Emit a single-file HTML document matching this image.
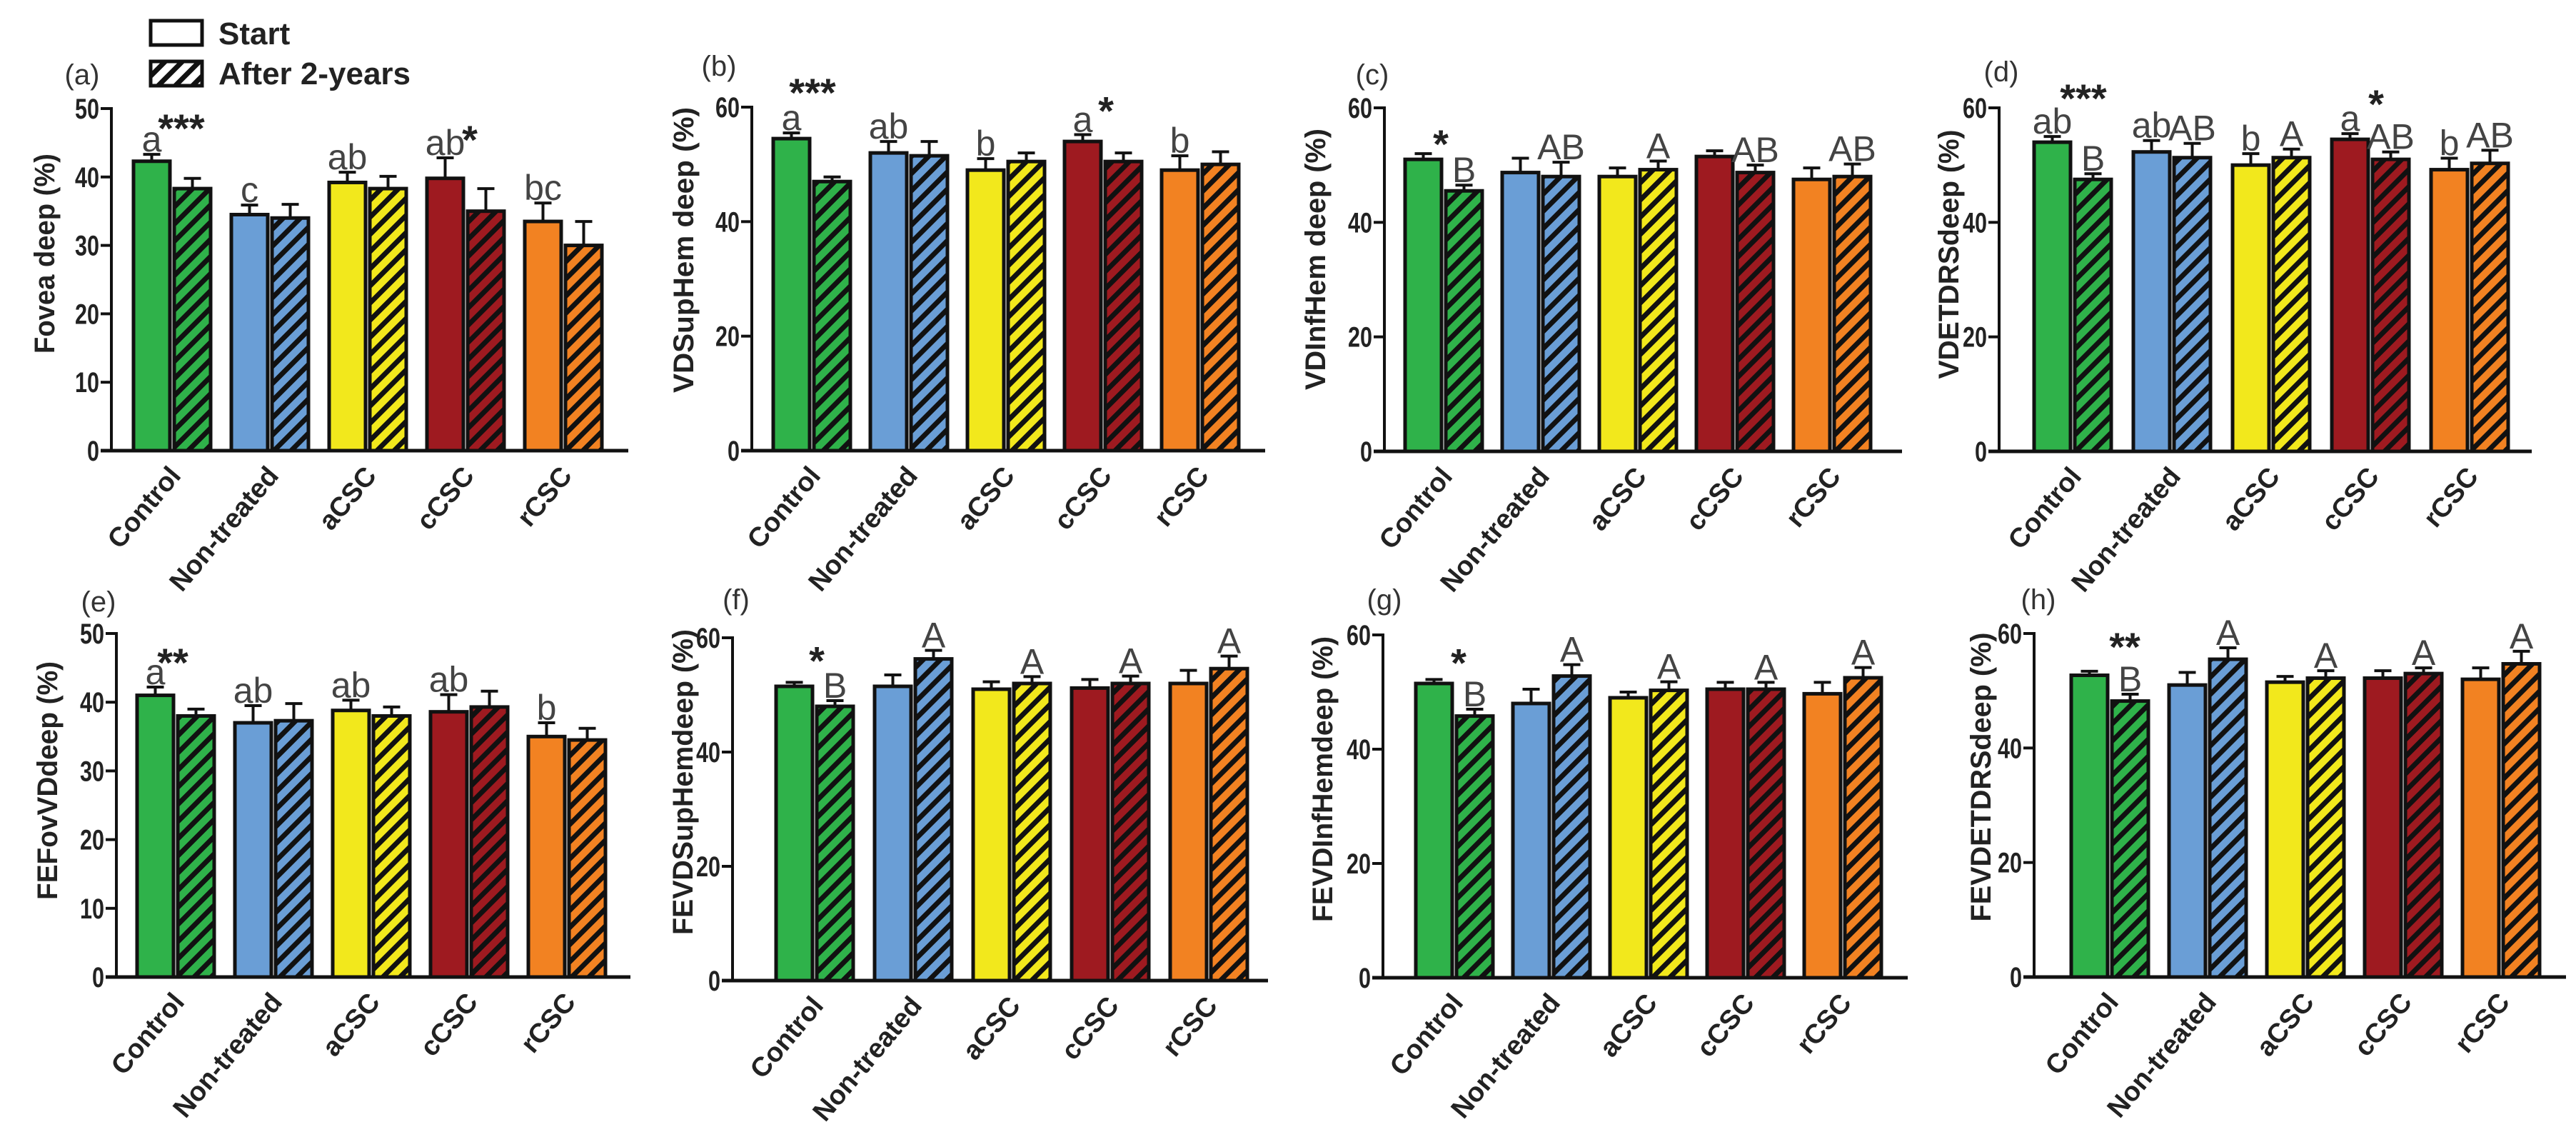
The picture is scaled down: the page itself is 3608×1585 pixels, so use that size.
<!DOCTYPE html>
<html><head><meta charset="utf-8"><style>
html,body{margin:0;padding:0;background:#fff}
svg{display:block}
text{font-family:"Liberation Sans",Arial,sans-serif}
</style></head><body>
<svg id="fig" width="3608" height="1585" viewBox="0 0 3608 1585" xmlns="http://www.w3.org/2000/svg">
<defs>
<pattern id="hatch" patternUnits="userSpaceOnUse" width="17" height="17" patternTransform="rotate(45)">
<rect x="0" y="0" width="7" height="17" fill="#111"/>
</pattern>
</defs>
<g>
<rect x="211" y="29" width="72" height="34" fill="#fff" stroke="#111" stroke-width="5"/>
<text x="306" y="62" font-size="44" font-weight="bold" fill="#222">Start</text>
<rect x="211" y="86" width="72" height="34" fill="#fff" stroke="#111" stroke-width="5"/>
<rect x="211" y="86" width="72" height="34" fill="url(#hatch)"/>
<text x="306" y="118" font-size="44" font-weight="bold" fill="#222">After 2-years</text>
</g>
</svg>
<script>
const categories = ["Control","Non-treated","aCSC","cCSC","rCSC"];
const colors = ["#2fb24a","#6a9ed6","#f2e81c","#9e1a20","#f28222"];

const aStart = [42.3,34.5,39.2,39.8,33.5];
const aAfter = [38.3,34.0,38.3,35.0,30.0];
const aStartErr = [1.0,1.4,1.5,3.0,2.7];
const aAfterErr = [1.5,2.0,1.8,3.3,3.5];

const bStart = [54.5,52.0,49.0,54.0,49.0];
const bAfter = [47.0,51.5,50.5,50.5,50.0];
const bStartErr = [1.0,2.0,2.0,1.2,2.5];
const bAfterErr = [0.8,2.5,1.5,1.5,2.2];

const cStart = [51.0,48.7,48.0,51.5,47.5];
const cAfter = [45.5,48.0,49.2,48.7,48.0];
const cStartErr = [1.0,2.5,1.5,1.0,2.0];
const cAfterErr = [1.0,2.5,1.5,1.3,2.2];

const dStart = [54.0,52.3,50.0,54.5,49.2];
const dAfter = [47.5,51.3,51.3,51.0,50.3];
const dStartErr = [1.0,2.0,2.0,1.0,2.0];
const dAfterErr = [1.0,2.5,1.5,1.3,2.3];

const eStart = [41.0,37.0,38.8,38.6,35.0];
const eAfter = [38.0,37.3,38.0,39.3,34.5];
const eStartErr = [1.2,2.5,1.5,2.5,2.0];
const eAfterErr = [1.0,2.5,1.3,2.3,1.7];

const fStart = [51.5,51.5,51.0,51.2,52.0];
const fAfter = [48.0,56.3,52.0,52.0,54.6];
const fStartErr = [0.7,2.0,1.3,1.5,2.3];
const fAfterErr = [1.0,1.5,1.2,1.3,2.2];

const gStart = [51.5,48.0,49.0,50.5,49.7];
const gAfter = [45.8,52.8,50.3,50.5,52.5];
const gStartErr = [0.7,2.5,1.0,1.2,2.0];
const gAfterErr = [1.2,2.0,1.5,1.2,1.8];

const hStart = [52.7,51.0,51.5,52.2,52.0];
const hAfter = [48.2,55.5,52.2,53.0,54.7];
const hStartErr = [0.7,2.2,1.0,1.3,2.0];
const hAfterErr = [1.2,2.0,1.3,1.0,2.2];

const ticks50 = [0,10,20,30,40,50];
const ticks60 = [0,20,40,60];

const aLetters = [[0,0,"a"],[1,0,"c"],[2,0,"ab"],[3,0,"ab"],[4,0,"bc"]];
const bLetters = [[0,0,"a"],[1,0,"ab"],[2,0,"b"],[3,0,"a"],[4,0,"b"]];
const cLetters = [[0,1,"B"],[1,1,"AB"],[2,1,"A"],[3,1,"AB"],[4,1,"AB"]];
const dLetters = [[0,0,"ab"],[0,1,"B"],[1,0,"ab"],[1,1,"AB"],[2,0,"b"],[2,1,"A"],[3,0,"a"],[3,1,"AB"],[4,0,"b"],[4,1,"AB"]];
const eLetters = [[0,0,"a"],[1,0,"ab"],[2,0,"ab"],[3,0,"ab"],[4,0,"b"]];
const fLetters = [[0,1,"B"],[1,1,"A"],[2,1,"A"],[3,1,"A"],[4,1,"A"]];
const gLetters = [[0,1,"B"],[1,1,"A"],[2,1,"A"],[3,1,"A"],[4,1,"A"]];
const hLetters = [[0,1,"B"],[1,1,"A"],[2,1,"A"],[3,1,"A"],[4,1,"A"]];
const aStars = [[0,"***",67,37],[3,"*",60,26]];
const bStars = [[0,"***",55,57],[3,"*",58,34]];
const cStars = [[0,"*",50,14]];
const dStars = [[0,"***",69,54],[3,"*",62,42]];
const eStars = [[0,"**",50,35]];
const fStars = [[0,"*",57,31]];
const gStars = [[0,"*",60,24]];
const hStars = [[0,"**",75,35]];

const panels = [
 {id:"a",start:aStart,after:aAfter,se:aStartErr,ae:aAfterErr,ticks:ticks50,max:50,letters:aLetters,stars:aStars,title:"Fovea deep (%)",
  x0:156,x1:880,yT:152,y0:631,first:187,sp:137,lx:115,ly:118,tx:62,ty:355,tl:280},
 {id:"b",start:bStart,after:bAfter,se:bStartErr,ae:bAfterErr,ticks:ticks60,max:60,letters:bLetters,stars:bStars,title:"VDSupHem deep  (%)",
  x0:1053,x1:1772,yT:150,y0:631,first:1083,sp:136,lx:1007,ly:106,tx:957,ty:350,tl:400},
 {id:"c",start:cStart,after:cAfter,se:cStartErr,ae:cAfterErr,ticks:ticks60,max:60,letters:cLetters,stars:cStars,title:"VDInfHem  deep  (%)",
  x0:1939,x1:2664,yT:151,y0:632,first:1968,sp:136,lx:1922,ly:118,tx:1842,ty:363,tl:366},
 {id:"d",start:dStart,after:dAfter,se:dStartErr,ae:dAfterErr,ticks:ticks60,max:60,letters:dLetters,stars:dStars,title:"VDETDRSdeep (%)",
  x0:2800,x1:3546,yT:151,y0:632,first:2849,sp:139,lx:2803,ly:114,tx:2729,ty:356,tl:349},
 {id:"e",start:eStart,after:eAfter,se:eStartErr,ae:eAfterErr,ticks:ticks50,max:50,letters:eLetters,stars:eStars,title:"FEFovVDdeep (%)",
  x0:163,x1:883,yT:887,y0:1368,first:192,sp:137,lx:138,ly:856,tx:66,ty:1093,tl:334},
 {id:"f",start:fStart,after:fAfter,se:fStartErr,ae:fAfterErr,ticks:ticks60,max:60,letters:fLetters,stars:fStars,title:"FEVDSupHemdeep (%)",
  x0:1026,x1:1776,yT:893,y0:1373,first:1087,sp:138,lx:1031,ly:853,tx:956,ty:1095,tl:428},
 {id:"g",start:gStart,after:gAfter,se:gStartErr,ae:gAfterErr,ticks:ticks60,max:60,letters:gLetters,stars:gStars,title:"FEVDInfHemdeep (%)",
  x0:1937,x1:2672,yT:889,y0:1369,first:1983,sp:136,lx:1939,ly:853,tx:1852,ty:1091,tl:400},
 {id:"h",start:hStart,after:hAfter,se:hStartErr,ae:hAfterErr,ticks:ticks60,max:60,letters:hLetters,stars:hStars,title:"FEVDETDRSdeep (%)",
  x0:2849,x1:3594,yT:887,y0:1368,first:2901,sp:137,lx:2855,ly:853,tx:2774,ty:1088,tl:405}
];

const NS = "http://www.w3.org/2000/svg";
const svg = document.getElementById("fig");
function mk(tag, attrs, parent){
  const e = document.createElementNS(NS, tag);
  for (const k in attrs) e.setAttribute(k, attrs[k]);
  (parent||svg).appendChild(e);
  return e;
}
const BW = 51, GAP = 6;

panels.forEach(p => {
  const g = mk("g", {});
  
  
  const yS = v => p.y0 - (v / p.max) * (p.y0 - p.yT);
  const xS = (gi, s) => p.first + gi * p.sp + s * (BW + GAP);

  const lab = mk("text", {x:p.lx, y:p.ly, "font-size":40, fill:"#333", "text-anchor":"middle"}, g);
  lab.textContent = "(" + p.id + ")";
  
  

  const tt = mk("text", {x:p.tx, y:p.ty, "font-size":40, "font-weight":"bold", fill:"#222", "text-anchor":"middle",
    transform:"rotate(-90 " + p.tx + " " + p.ty + ")", textLength:p.tl, lengthAdjust:"spacingAndGlyphs", dy:"14"}, g);
  tt.textContent = p.title;
  
  

  p.ticks.forEach(t => {
    const y = yS(t);
    const tl = mk("line", {x1:p.x0-15, x2:p.x0, y1:y, y2:y, stroke:"#111", "stroke-width":4}, g);
    
    
    const s = String(t);
    const tx = mk("text", {x:p.x0-17, y:y+14, "font-size":40, "font-weight":"bold", fill:"#222", "text-anchor":"end",
      textLength:s.length*17, lengthAdjust:"spacingAndGlyphs"}, g);
    tx.textContent = s;
    
    
  });

  categories.forEach((c, gi) => {
    [p.start, p.after].forEach((arr, s) => {
      const v = arr[gi], err = (s ? p.ae : p.se)[gi];
      const x = xS(gi, s), y = yS(v), yE = yS(v + err), cx = x + BW/2;
      const el = mk("line", {x1:cx, x2:cx, y1:y, y2:yE, stroke:"#111", "stroke-width":4}, g);
      
      
      const cap = mk("line", {x1:cx-12, x2:cx+12, y1:yE, y2:yE, stroke:"#111", "stroke-width":4}, g);
      
      
      const r = mk("rect", {x:x, y:y, width:BW, height:p.y0 - y, fill:colors[gi], stroke:"#111", "stroke-width":5}, g);
      
      
      if (s) {
        const h = mk("rect", {x:x+2, y:y+2, width:BW-4, height:Math.max(0,p.y0 - y - 4), fill:"url(#hatch)"}, g);
        
        
      }
    });
    const lx = xS(gi, 0) + BW + GAP/2 + 14, ly = p.y0 + 36;
    const xl = mk("text", {x:lx, y:ly, "font-size":38, "font-weight":"bold", fill:"#222", "text-anchor":"end",
      transform:"rotate(-50 " + lx + " " + ly + ")"}, g);
    xl.textContent = c;
    
    
  });

  p.letters.forEach(L => {
    const [gi, s, t] = L;
    const v = (s ? p.after : p.start)[gi] + (s ? p.ae : p.se)[gi];
    const te = mk("text", {x:xS(gi, s) + BW/2, y:yS(v) - 4, "font-size":50, fill:"#444", "text-anchor":"middle"}, g);
    te.textContent = t;
    
    
  });
  p.stars.forEach(S => {
    const [gi, t, dx, dy] = S;
    const top = Math.max(p.start[gi] + p.se[gi], p.after[gi] + p.ae[gi]);
    const te = mk("text", {x:xS(gi, 0) + dx, y:yS(top) - dy + 20, "font-size":56, "font-weight":"bold", fill:"#222", "text-anchor":"middle"}, g);
    te.textContent = t;
    
    
  });

  const ya = mk("line", {x1:p.x0, x2:p.x0, y1:p.yT-2, y2:p.y0, stroke:"#111", "stroke-width":4}, g);
  
  
  const xa = mk("line", {x1:p.x0-15, x2:p.x1, y1:p.y0, y2:p.y0, stroke:"#111", "stroke-width":5}, g);
  
  
});
</script>
</body></html>
